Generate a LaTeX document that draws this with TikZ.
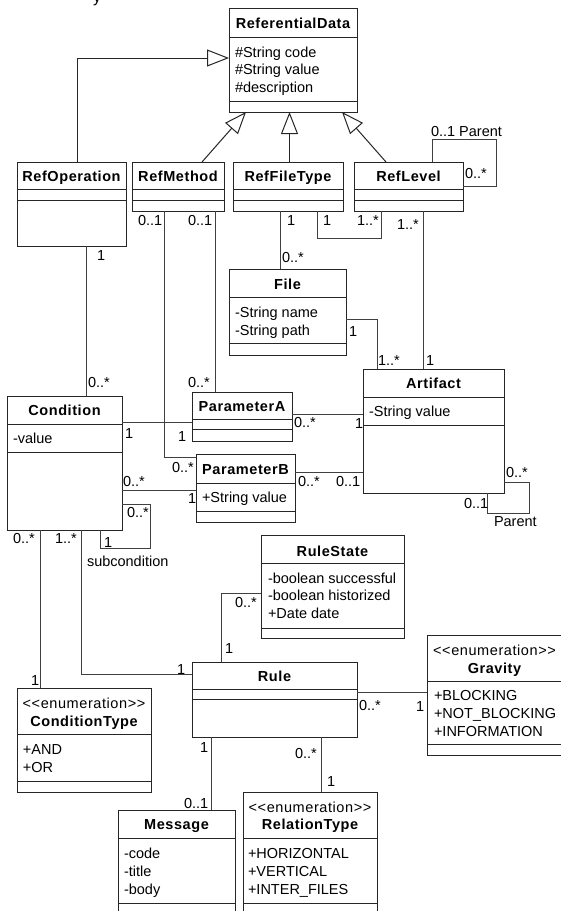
\documentclass[tikz,border=0pt]{standalone}
\usepackage{fontspec}
\setmainfont{Liberation Sans}
\newfontfamily\headfont[LetterSpace=4]{Liberation Sans}
\usetikzlibrary{arrows.meta}

% class box: name, left, top, right, bottom (pixel units, y downwards)
\newcommand\umlbox[5]{%
  \node[classbox, anchor=north west,
        minimum width={(#4-#2)*1pt}, minimum height={(#5-#3)*1pt}] (#1) at (#2,#3) {};}
% compartment separator inside a class box
\newcommand\umlsep[2]{\draw[sepline] (#1.west |- 0,#2) -- (#1.east |- 0,#2);}

\tikzset{
  every node/.style={inner sep=0pt, outer sep=0pt, font=\fontsize{14.5}{17}\selectfont},
  classbox/.style={draw=black!85, line width=1pt, rectangle, fill=none},
  sepline/.style={draw=black!85, line width=1pt},
  assoc/.style={draw=black!75, line width=1pt},
  gen/.style={draw=black!85, line width=1pt,
    -{Triangle[open, length=22pt, width=17pt, fill=white, line width=1pt]}},
  headtext/.style={anchor=base, font=\fontsize{14.5}{17}\selectfont\headfont\bfseries},
  stereo/.style={anchor=base, font=\fontsize{14.5}{17}\selectfont\headfont},
  attr/.style={anchor=base west},
  mult/.style={anchor=base west},
}

\begin{document}
\begin{tikzpicture}[x=1pt, y=-1pt]
\useasboundingbox (0,0) rectangle (560,911);

% cut-off heading
\node[anchor=base west, font=\fontsize{16}{18}\selectfont] (heading) at (93,2) {y};

% ---------- classes ----------
\umlbox{rd}{229}{8}{357}{112}
\umlsep{rd}{37}\umlsep{rd}{101}
\node[headtext] (rd-t) at (rd.center |- 0,28) {ReferentialData};
\node[attr] (rd-a1) at (235,57) {\#String code};
\node[attr] (rd-a2) at (235,74) {\#String value};
\node[attr] (rd-a3) at (235,92) {\#description};

\umlbox{rop}{17}{162}{126}{246}
\umlsep{rop}{189}\umlsep{rop}{200}
\node[headtext] (rop-t) at (rop.center |- 0,181) {RefOperation};

\umlbox{rme}{132}{162}{224}{211}
\umlsep{rme}{189}\umlsep{rme}{200}
\node[headtext] (rme-t) at (rme.center |- 0,181) {RefMethod};

\umlbox{rft}{233}{162}{343}{211}
\umlsep{rft}{189}\umlsep{rft}{200}
\node[headtext] (rft-t) at (rft.center |- 0,181) {RefFileType};

\umlbox{rlv}{354}{162}{463}{211}
\umlsep{rlv}{189}\umlsep{rlv}{200}
\node[headtext] (rlv-t) at (rlv.center |- 0,181) {RefLevel};

\umlbox{file}{229}{269}{346}{355}
\umlsep{file}{297}\umlsep{file}{343}
\node[headtext] (file-t) at (file.center |- 0,289) {File};
\node[attr] (file-a1) at (235,317) {-String name};
\node[attr] (file-a2) at (235,335) {-String path};

\umlbox{art}{363}{369}{504}{493}
\umlsep{art}{397}\umlsep{art}{425}
\node[headtext] (art-t) at (art.center |- 0,388) {Artifact};
\node[attr] (art-a1) at (369,416) {-String value};

\umlbox{cond}{7}{396}{122}{530}
\umlsep{cond}{424}\umlsep{cond}{452}
\node[headtext] (cond-t) at (cond.center |- 0,415) {Condition};
\node[attr] (cond-a1) at (13,443) {-value};

\umlbox{pa}{192}{392}{292}{441}
\umlsep{pa}{419}\umlsep{pa}{429}
\node[headtext] (pa-t) at (pa.center |- 0,411) {ParameterA};

\umlbox{pb}{196}{454}{295}{522}
\umlsep{pb}{483}\umlsep{pb}{511}
\node[headtext] (pb-t) at (pb.center |- 0,474) {ParameterB};
\node[attr] (pb-a1) at (202,502) {+String value};

\umlbox{rs}{261}{535}{404}{638}
\umlsep{rs}{563}\umlsep{rs}{628}
\node[headtext] (rs-t) at (rs.center |- 0,556) {RuleState};
\node[attr] (rs-a1) at (268,583) {-boolean successful};
\node[attr] (rs-a2) at (268,600) {-boolean historized};
\node[attr] (rs-a3) at (268,618) {+Date date};

\umlbox{rule}{192}{662}{357}{737}
\umlsep{rule}{689}\umlsep{rule}{699}
\node[headtext] (rule-t) at (rule.center |- 0,681) {Rule};

\umlbox{grav}{427}{635}{562}{755}
\umlsep{grav}{681}\umlsep{grav}{744}
\node[stereo] (grav-s) at (grav.center |- 0,655) {{<}{<}enumeration{>}{>}};
\node[headtext] (grav-t) at (grav.center |- 0,673) {Gravity};
\node[attr] (grav-a1) at (434,700) {+BLOCKING};
\node[attr] (grav-a2) at (434,718) {+NOT\_BLOCKING};
\node[attr] (grav-a3) at (434,736) {+INFORMATION};

\umlbox{ct}{17}{688}{151}{792}
\umlsep{ct}{734}\umlsep{ct}{781}
\node[stereo] (ct-s) at (ct.center |- 0,708) {{<}{<}enumeration{>}{>}};
\node[headtext] (ct-t) at (ct.center |- 0,726) {ConditionType};
\node[attr] (ct-a1) at (23,754) {+AND};
\node[attr] (ct-a2) at (23,772) {+OR};

\umlbox{msg}{118}{810}{235}{925}
\umlsep{msg}{838}\umlsep{msg}{903}
\node[headtext] (msg-t) at (msg.center |- 0,829) {Message};
\node[attr] (msg-a1) at (124,858) {-code};
\node[attr] (msg-a2) at (124,876) {-title};
\node[attr] (msg-a3) at (124,894) {-body};

\umlbox{relt}{243}{792}{377}{925}
\umlsep{relt}{838}\umlsep{relt}{903}
\node[stereo] (relt-s) at (relt.center |- 0,812) {{<}{<}enumeration{>}{>}};
\node[headtext] (relt-t) at (relt.center |- 0,829) {RelationType};
\node[attr] (relt-a1) at (248,858) {+HORIZONTAL};
\node[attr] (relt-a2) at (248,876) {+VERTICAL};
\node[attr] (relt-a3) at (248,894) {+INTER\_FILES};

% ---------- generalizations ----------
\draw[gen] (rop.north -| 77,0) |- (rd.west |- 0,58);
\draw[gen] (rme.north -| 202,0) -- (rd.south -| 246,0);
\draw[gen] (rft.north -| 289.5,0) -- (rd.south -| 289.5,0);
\draw[gen] (rlv.north -| 386,0) -- (rd.south -| 342,0);

% ---------- associations ----------
% RefLevel parent loop
\coordinate (lvA) at (496,139);
\draw[assoc] (rlv.east |- 0,186) -| (lvA) -| (rlv.north -| 432,0);
\node[mult] (lv-m1) at (431,136) {0..1 Parent};
\node[mult] (lv-m2) at (465,178) {0..*};

% RefFileType -- RefLevel
\coordinate (ftA) at (381,238);
\draw[assoc] (rft.south -| 317,0) |- (ftA) -- (rlv.south -| 381,0);
\node[mult] (ft-m1) at (323,225) {1};
\node[mult] (ft-m2) at (357,225) {1..*};

% RefFileType -- File
\draw[assoc] (rft.south -| 280,0) -- (file.north -| 280,0);
\node[mult] (ff-m1) at (287,225) {1};
\node[mult] (ff-m2) at (282,262) {0..*};

% File -- Artifact
\draw[assoc] (file.east |- 0,319) -| (art.north -| 377,0);
\node[mult] (fa-m1) at (349,336) {1};
\node[mult] (fa-m2) at (378,365) {1..*};

% RefLevel -- Artifact
\draw[assoc] (rlv.south -| 423,0) -- (art.north -| 423,0);
\node[mult] (la-m1) at (397,229) {1..*};
\node[mult] (la-m2) at (426,365) {1};

% RefOperation -- Condition
\draw[assoc] (rop.south -| 86,0) -- (cond.north -| 86,0);
\node[mult] (oc-m1) at (97,260) {1};
\node[mult] (oc-m2) at (88,387) {0..*};

% RefMethod -- ParameterA
\draw[assoc] (rme.south -| 215,0) -- (pa.north -| 215,0);
\node[mult] (ma-m1) at (188,225) {0..1};
\node[mult] (ma-m2) at (188,387) {0..*};

% RefMethod -- ParameterB
\draw[assoc] (rme.south -| 164,0) |- (pb.west |- 0,457);
\node[mult] (mb-m1) at (138,225) {0..1};
\node[mult] (mb-m2) at (172,472) {0..*};

% Condition -- ParameterA
\draw[assoc] (cond.east |- 0,422) -- (pa.west |- 0,422);
\node[mult] (ca-m1) at (125,438) {1};
\node[mult] (ca-m2) at (178,441) {1};

% ParameterA -- Artifact
\draw[assoc] (pa.east |- 0,414) -- (art.west |- 0,414);
\node[mult] (pa-m1) at (294,427) {0..*};
\node[mult] (pa-m2) at (355,428) {1};

% Condition -- ParameterB
\draw[assoc] (cond.east |- 0,490) -- (pb.west |- 0,490);
\node[mult] (cb-m1) at (123,486) {0..*};
\node[mult] (cb-m2) at (188,503) {1};

% ParameterB -- Artifact
\draw[assoc] (pb.east |- 0,472) -- (art.west |- 0,472);
\node[mult] (pb-m1) at (298,486) {0..*};
\node[mult] (pb-m2) at (336,486) {0..1};

% Artifact parent loop
\coordinate (arA) at (529,513);
\draw[assoc] (art.east |- 0,482) -| (arA) -| (art.south -| 487.5,0);
\node[mult] (ar-m1) at (506,477) {0..*};
\node[mult] (ar-m2) at (464,508) {0..1};
\node[mult] (ar-m3) at (494,526) {Parent};

% Condition subcondition loop
\coordinate (coA) at (150,548);
\draw[assoc] (cond.east |- 0,504) -| (coA) -| (cond.south -| 100,0);
\node[mult] (co-m1) at (127,517) {0..*};
\node[mult] (co-m2) at (104,547) {1};
\node[mult] (co-m3) at (87,566) {subcondition};

% Condition -- ConditionType
\draw[assoc] (cond.south -| 40,0) -- (ct.north -| 40,0);
\node[mult] (cc-m1) at (13,543) {0..*};
\node[mult] (cc-m2) at (31,685) {1};

% Condition -- Rule
\draw[assoc] (cond.south -| 81,0) |- (rule.west |- 0,674);
\node[mult] (cr-m1) at (55,543) {1..*};
\node[mult] (cr-m2) at (177,674) {1};

% RuleState -- Rule
\draw[assoc] (rs.west |- 0,593) -| (rule.north -| 221,0);
\node[mult] (sr-m1) at (235,607) {0..*};
\node[mult] (sr-m2) at (225,653) {1};

% Rule -- Gravity
\draw[assoc] (rule.east |- 0,692) -- (grav.west |- 0,692);
\node[mult] (rg-m1) at (359,710) {0..*};
\node[mult] (rg-m2) at (416,711) {1};

% Rule -- Message
\draw[assoc] (rule.south -| 211,0) -- (msg.north -| 211,0);
\node[mult] (rm-m1) at (200,752) {1};
\node[mult] (rm-m2) at (184,808) {0..1};

% Rule -- RelationType
\draw[assoc] (rule.south -| 321,0) -- (relt.north -| 321,0);
\node[mult] (rr-m1) at (295,758) {0..*};
\node[mult] (rr-m2) at (327,786) {1};
\end{tikzpicture}
\end{document}
